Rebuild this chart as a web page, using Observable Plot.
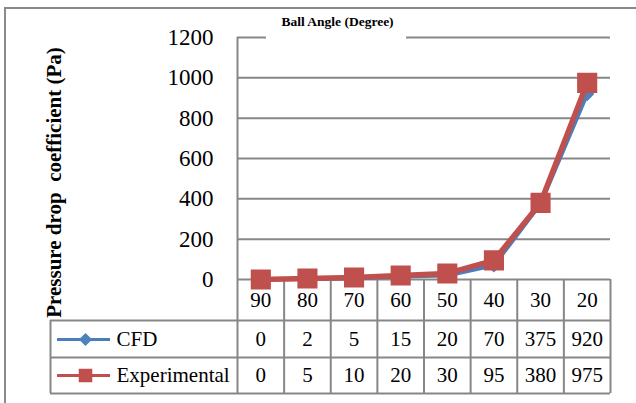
<!DOCTYPE html>
<html>
<head>
<meta charset="utf-8">
<script src="https://cdn.jsdelivr.net/npm/d3@7"></script>
<script src="https://cdn.jsdelivr.net/npm/@observablehq/plot@0.6"></script>
<style>
  html, body { margin: 0; padding: 0; background: #fff; }
  #wrap { position: relative; width: 636px; height: 403px; overflow: hidden; }
  #frame { position: absolute; left: 4px; top: 7px; width: 800px; height: 600px;
           border-top: 2px solid #8a8a8a; border-left: 2px solid #8a8a8a; pointer-events: none; }
  svg, svg text { font-family: "Liberation Serif", "Times New Roman", serif !important; white-space: pre; }
</style>
</head>
<body>
<div id="wrap"></div>
<script>
const categories = ["90", "80", "70", "60", "50", "40", "30", "20"];
const cfd = [0, 2, 5, 15, 20, 70, 375, 920];
const experimental = [0, 5, 10, 20, 30, 95, 380, 975];
const yTicks = [0, 200, 400, 600, 800, 1000, 1200];
const seriesNames = ["CFD", "Experimental"];
const titleText = "Ball Angle (Degree)";
const yLabelText = "Pressure drop  coefficient (Pa)";

// layout (pixels)
const W = 636, H = 403;
const L = 237, R = 610, T = 37, Z = 279;
const colW = (R - L) / categories.length;
const px2x = px => (px - L) / colW;
const py2y = py => (Z - py) * 1200 / (Z - T);

const blue = "#4A7EBB", blueM = "#4F81BD", red = "#C0504D", grid = "#878787";
const font = "Liberation Serif";

const rowLines = [py2y(320), py2y(357), py2y(393)];
const rowCenters = [py2y(339), py2y(375)];
const seriesData = [cfd, experimental];

const pts = (arr) => arr.map((v, i) => ({x: i + 0.5, y: v}));

const marks = [
  Plot.gridY({ticks: yTicks.filter(t => t < 1200), stroke: grid, strokeOpacity: 1, strokeWidth: 2}),
  Plot.ruleY([1200], {x1: 0, x2: px2x(266), stroke: grid, strokeWidth: 2}),
  Plot.ruleY([1200], {x1: px2x(406), x2: categories.length, stroke: grid, strokeWidth: 2}),
  Plot.ruleX([0], {y1: py2y(393), y2: 1200, stroke: grid, strokeWidth: 2}),
  Plot.ruleX(d3.range(1, categories.length + 1), {y1: 0, y2: py2y(393), stroke: grid, strokeWidth: 2}),
  Plot.ruleX([px2x(50)], {y1: py2y(320), y2: py2y(393), stroke: grid, strokeWidth: 2}),
  Plot.ruleY(rowLines, {x1: px2x(50), x2: categories.length, stroke: grid, strokeWidth: 2}),
  Plot.axisY({ticks: yTicks, tickFormat: d => String(d), tickSize: 0, tickPadding: 24, fontSize: 23, label: null}),
  Plot.axisX({ticks: d3.range(categories.length).map(i => i + 0.5), tickFormat: d => categories[Math.floor(d)],
              tickSize: 0, tickPadding: 13, fontSize: 21, label: null}),
  ...seriesData.map((arr, s) => Plot.text(arr, {x: (d, i) => i + 0.5, y: () => rowCenters[s], text: d => String(d), fontSize: 21})),
  Plot.ruleY([rowCenters[0]], {x1: px2x(57), x2: px2x(110), stroke: blue, strokeWidth: 3}),
  Plot.dot([0], {x: () => px2x(85), y: () => rowCenters[0], symbol: "diamond2", r: 5, fill: blueM, stroke: blueM}),
  Plot.ruleY([rowCenters[1]], {x1: px2x(57), x2: px2x(110), stroke: red, strokeWidth: 3}),
  Plot.dot([0], {x: () => px2x(85), y: () => rowCenters[1], symbol: "square", r: 6.8, fill: red, stroke: red}),
  Plot.text(seriesNames, {x: () => px2x(116), y: (d, i) => rowCenters[i], text: d => d, textAnchor: "start", fontSize: 21}),
  Plot.line(pts(cfd), {x: "x", y: "y", stroke: blue, strokeWidth: 4}),
  Plot.dot(pts(cfd), {x: "x", y: "y", symbol: "diamond2", r: 5.5, fill: blueM, stroke: blueM}),
  Plot.line(pts(experimental), {x: "x", y: "y", stroke: red, strokeWidth: 5.5}),
  Plot.dot(pts(experimental), {x: "x", y: "y", symbol: "square", r: 10.5, fill: red, stroke: red}),
  Plot.text([titleText], {x: () => px2x(337), y: () => py2y(21), text: d => d, fontSize: 13.5, fontWeight: "bold"}),
  Plot.text([yLabelText], {x: () => px2x(54), y: () => py2y(182), text: d => d, rotate: -90, fontSize: 21, fontWeight: "bold"})
];

const chart = Plot.plot({
  width: W, height: H,
  marginLeft: L, marginRight: W - R, marginTop: T, marginBottom: H - Z,
  x: {type: "linear", domain: [0, categories.length], range: [L, R]},
  y: {type: "linear", domain: [0, 1200], range: [Z, T]},
  style: {fontFamily: font, fontSize: "21px", color: "#000", background: "transparent", overflow: "visible"},
  marks
});
const wrap = document.getElementById("wrap");
wrap.appendChild(chart);
chart.style.position = "absolute";
chart.style.left = "0px";
chart.style.top = "0px";
const frame = document.createElement("div");
frame.id = "frame";
wrap.appendChild(frame);
</script>
</body>
</html>
